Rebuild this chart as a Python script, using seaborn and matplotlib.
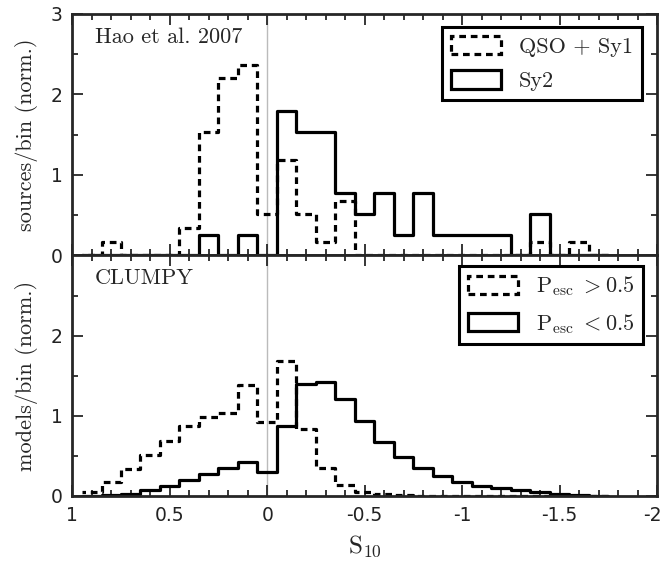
import numpy as np
import pandas as pd
import seaborn as sns
import matplotlib
matplotlib.use("Agg")
import matplotlib.pyplot as plt
import matplotlib.transforms as mtransforms
from matplotlib.patches import Patch
from matplotlib.ticker import MultipleLocator

# ---------------- data ----------------
bin_centers = [0.9, 0.8, 0.7, 0.6, 0.5, 0.4, 0.3, 0.2, 0.1, 0.0,
               -0.1, -0.2, -0.3, -0.4, -0.5, -0.6, -0.7, -0.8, -0.9, -1.0,
               -1.1, -1.2, -1.3, -1.4, -1.5, -1.6, -1.7]
bin_width = 0.1

qso_sy1 = [0, 0.17, 0, 0, 0, 0.34, 1.53, 2.20, 2.37, 0.51,
           1.19, 0.51, 0.17, 0.68, 0, 0, 0, 0, 0, 0,
           0, 0, 0, 0.17, 0, 0.17, 0]
sy2 = [0, 0, 0, 0, 0, 0, 0.26, 0, 0.26, 0,
       1.79, 1.54, 1.54, 0.77, 0.51, 0.77, 0.26, 0.77, 0.26, 0.26,
       0.26, 0.26, 0, 0.51, 0, 0, 0]
pesc_gt = [0.05, 0.17, 0.34, 0.51, 0.69, 0.87, 0.98, 1.04, 1.39, 0.92,
           1.68, 0.83, 0.35, 0.14, 0.05, 0.02, 0.01, 0.005, 0, 0,
           0, 0, 0, 0, 0, 0, 0]
pesc_lt = [0, 0.01, 0.02, 0.07, 0.13, 0.20, 0.28, 0.35, 0.43, 0.30,
           0.87, 1.40, 1.42, 1.21, 0.93, 0.67, 0.49, 0.35, 0.25, 0.18,
           0.125, 0.10, 0.07, 0.05, 0.03, 0.01, 0]

top_labels = ["QSO + Sy1", "Sy2"]
bot_labels = [r"$\mathrm{P_{esc}}\ > 0.5$", r"$\mathrm{P_{esc}}\ < 0.5$"]
xtick_vals = [1, 0.5, 0, -0.5, -1, -1.5, -2]
xtick_text = ["1", "0.5", "0", "-0.5", "-1", "-1.5", "-2"]

# ---------------- style ----------------
sns.set_style("ticks")
plt.rcParams["font.family"] = ["DejaVu Sans"]
plt.rcParams["mathtext.fontset"] = "cm"
plt.rcParams["axes.unicode_minus"] = False
plt.rcParams["axes.linewidth"] = 2.0
plt.rcParams["xtick.direction"] = "in"
plt.rcParams["ytick.direction"] = "in"

serif = "cmr10"
SFS = 16
LW = 2.3
DASH = (0, (2.1, 1.5))

df = pd.DataFrame({"S10": bin_centers, "qso": qso_sy1, "sy2": sy2,
                   "gt": pesc_gt, "lt": pesc_lt})
centers_sorted = np.sort(np.array(bin_centers))
edges = [float(round(v, 3)) for v in
         np.append(centers_sorted - bin_width / 2, centers_sorted[-1] + bin_width / 2)]

fig = plt.figure(figsize=(6.63, 5.75), dpi=100)
ax1 = fig.add_axes([0.109, 0.5557, 0.882, 0.42])
ax2 = fig.add_axes([0.109, 0.1374, 0.882, 0.4183], sharex=ax1)

def draw(ax, col, dashed):
    sns.histplot(data=df, x="S10", weights=col, bins=edges, element="step",
                 fill=False, color="black", linewidth=LW,
                 linestyle=DASH if dashed else "-", ax=ax)

draw(ax1, "qso", True)
draw(ax1, "sy2", False)
draw(ax2, "gt", True)
draw(ax2, "lt", False)

for ax in (ax1, ax2):
    ax.axvline(0, color="#bbbbbb", linewidth=1.0, zorder=0)
    ax.set_xlim(1, -2)
    ax.set_ylim(0, 3)
    ax.xaxis.set_major_locator(MultipleLocator(0.5))
    ax.xaxis.set_minor_locator(MultipleLocator(0.1))
    ax.yaxis.set_major_locator(MultipleLocator(1))
    ax.yaxis.set_minor_locator(MultipleLocator(0.5))
    ax.tick_params(which="both", top=True, right=True, width=1.3,
                   labelsize=13.5, pad=7, labelcolor="#222222")
    ax.tick_params(which="major", length=8)
    ax.tick_params(which="minor", length=4)
    for s in ax.spines.values():
        s.set_linewidth(2.0)

ax1.tick_params(labelbottom=False)
ax1.set_xlabel("")
ax1.set_yticks([0, 1, 2, 3])
ax1.set_yticklabels(["0", "1", "2", "3"])
ax2.set_yticks([0, 1, 2])
ax2.set_yticklabels(["0", "1", "2"])
ax2.set_xticks(xtick_vals)
ax2.set_xticklabels(xtick_text)
# nudge the last tick label left so it stays inside the canvas
last = ax2.get_xticklabels()[-1]
last.set_transform(last.get_transform() +
                   mtransforms.ScaledTranslation(-5 / 100, 0, fig.dpi_scale_trans))

ax1.set_ylabel("sources/bin (norm.)", family=serif, fontsize=SFS, labelpad=9)
ax2.set_ylabel("models/bin (norm.)", family=serif, fontsize=SFS, labelpad=9)
ax2.set_xlabel(r"$\mathrm{S_{10}}$", fontsize=18, labelpad=6)

ax1.text(0.039, 0.945, "Hao et al. 2007", transform=ax1.transAxes,
         family=serif, fontsize=SFS, va="top", ha="left")
ax2.text(0.039, 0.945, "CLUMPY", transform=ax2.transAxes,
         family=serif, fontsize=SFS, va="top", ha="left")

def legend(ax, labels, anchor):
    h = [Patch(facecolor="white", edgecolor="black", linestyle=DASH, linewidth=LW),
         Patch(facecolor="white", edgecolor="black", linestyle="-", linewidth=LW)]
    leg = ax.legend(h, labels, loc="upper right", frameon=True, fancybox=False,
                    framealpha=1, edgecolor="black", handlelength=2.25,
                    handleheight=0.9, borderpad=0.4, labelspacing=0.6,
                    handletextpad=0.8, borderaxespad=0,
                    prop={"family": serif, "size": SFS},
                    bbox_to_anchor=anchor)
    leg.get_frame().set_linewidth(2.2)
    return leg

legend(ax1, top_labels, (0.974, 0.946))
legend(ax2, bot_labels, (0.976, 0.958))

fig.savefig("out.png", dpi=100)
